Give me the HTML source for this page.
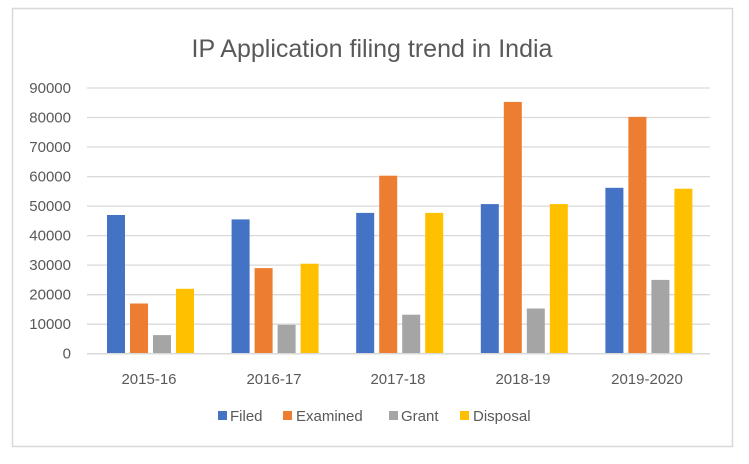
<!DOCTYPE html>
<html><head><style>body{margin:0;background:#fff}</style></head><body>
<svg width="749" height="459" xmlns="http://www.w3.org/2000/svg" font-family="Liberation Sans, sans-serif">
<rect x="0" y="0" width="749" height="459" fill="#fff"/>
<rect x="12.5" y="8.5" width="720" height="438" fill="#fff" stroke="#d9d9d9" stroke-width="1.5"/>
<text x="372" y="57" text-anchor="middle" font-size="25" fill="#595959">IP Application filing trend in India</text>
<g stroke="#d9d9d9" stroke-width="1.3">
<line x1="87" x2="710" y1="88" y2="88"/><line x1="87" x2="710" y1="117.5" y2="117.5"/>
<line x1="87" x2="710" y1="147" y2="147"/><line x1="87" x2="710" y1="176.6" y2="176.6"/>
<line x1="87" x2="710" y1="206.1" y2="206.1"/><line x1="87" x2="710" y1="235.6" y2="235.6"/>
<line x1="87" x2="710" y1="265.1" y2="265.1"/><line x1="87" x2="710" y1="294.7" y2="294.7"/>
<line x1="87" x2="710" y1="324.2" y2="324.2"/><line x1="87" x2="710" y1="353.7" y2="353.7"/>
</g>
<g font-size="15" fill="#595959" text-anchor="end">
<text x="71" y="93">90000</text><text x="71" y="122.5">80000</text><text x="71" y="152">70000</text>
<text x="71" y="181.6">60000</text><text x="71" y="211.1">50000</text><text x="71" y="240.6">40000</text>
<text x="71" y="270.1">30000</text><text x="71" y="299.7">20000</text><text x="71" y="329.2">10000</text>
<text x="71" y="358.7">0</text>
</g>
<g font-size="15" fill="#595959" text-anchor="middle">
<text x="149" y="384">2015-16</text><text x="274" y="384">2016-17</text><text x="398" y="384">2017-18</text>
<text x="523" y="384">2018-19</text><text x="647" y="384">2019-2020</text>
</g>
<g font-size="15" fill="#595959">
<rect x="218" y="411" width="9" height="9" fill="#4472c4"/><text x="230" y="421">Filed</text>
<rect x="283" y="411" width="9" height="9" fill="#ed7d31"/><text x="296" y="421">Examined</text>
<rect x="389" y="411" width="9" height="9" fill="#a5a5a5"/><text x="401" y="421">Grant</text>
<rect x="460" y="411" width="9" height="9" fill="#ffc000"/><text x="473" y="421">Disposal</text>
</g>
<g>
<rect x="107" y="215" width="18" height="138.7" fill="#4472c4"/>
<rect x="130" y="303.5" width="18" height="50.2" fill="#ed7d31"/>
<rect x="153" y="335.1" width="18" height="18.6" fill="#a5a5a5"/>
<rect x="176" y="288.8" width="18" height="64.9" fill="#ffc000"/>

<rect x="231.6" y="219.4" width="18" height="134.3" fill="#4472c4"/>
<rect x="254.6" y="268.1" width="18" height="85.6" fill="#ed7d31"/>
<rect x="277.6" y="324.8" width="18" height="28.9" fill="#a5a5a5"/>
<rect x="300.6" y="263.7" width="18" height="90" fill="#ffc000"/>

<rect x="356.2" y="212.9" width="18" height="140.8" fill="#4472c4"/>
<rect x="379.2" y="175.7" width="18" height="178" fill="#ed7d31"/>
<rect x="402.2" y="314.7" width="18" height="39" fill="#a5a5a5"/>
<rect x="425.2" y="212.9" width="18" height="140.8" fill="#ffc000"/>

<rect x="480.8" y="204.1" width="18" height="149.6" fill="#4472c4"/>
<rect x="503.8" y="101.9" width="18" height="251.8" fill="#ed7d31"/>
<rect x="526.8" y="308.5" width="18" height="45.2" fill="#a5a5a5"/>
<rect x="549.8" y="204.1" width="18" height="149.6" fill="#ffc000"/>

<rect x="605.4" y="187.8" width="18" height="165.9" fill="#4472c4"/>
<rect x="628.4" y="116.9" width="18" height="236.8" fill="#ed7d31"/>
<rect x="651.4" y="279.9" width="18" height="73.8" fill="#a5a5a5"/>
<rect x="674.4" y="188.7" width="18" height="165" fill="#ffc000"/>
</g>
<line x1="87" x2="710" y1="353.7" y2="353.7" stroke="#d9d9d9" stroke-width="1.3"/>
</svg>
</body></html>
